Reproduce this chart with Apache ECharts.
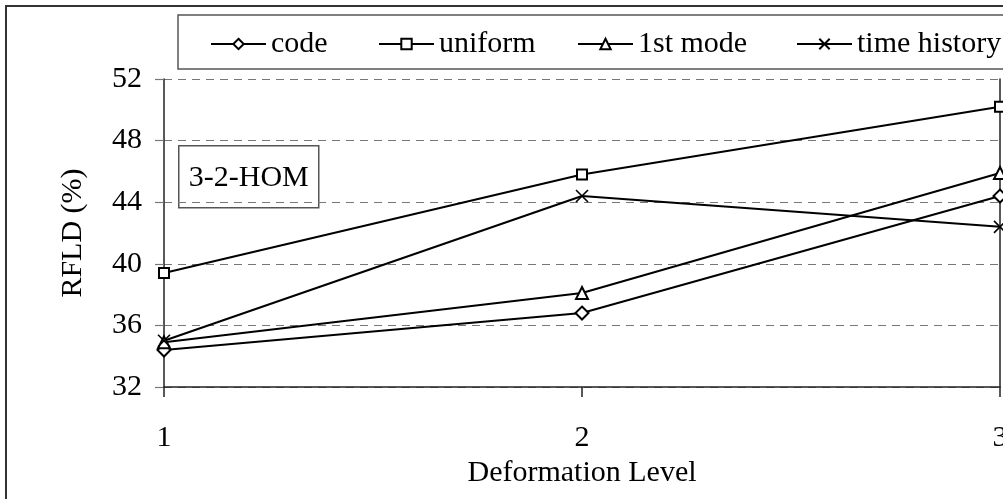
<!DOCTYPE html>
<html>
<head>
<meta charset="utf-8">
<script src="https://cdn.jsdelivr.net/npm/echarts@6/dist/echarts.min.js"></script>
<style>
  html, body { margin: 0; padding: 0; background: #fff; }
  #chart { width: 1003px; height: 499px; }
</style>
</head>
<body>
<div id="chart"></div>
<script>
// data
const levels = [1, 2, 3]
const code = [34.4, 36.8, 44.4]
const uniform = [39.4, 45.8, 50.2]
const firstMode = [34.9, 38.1, 45.9]
const timeHistory = [35.0, 44.4, 42.4]

const seriesNames = ['code', 'uniform', '1st mode', 'time history']
const yTicks = [32, 36, 40, 44, 48, 52]

const FONT = "'Liberation Serif', 'Times New Roman', serif"
const FS = 30
const crossPath = 'path://M0,0L10,10M10,0L0,10'

const chart = echarts.init(document.getElementById('chart'), null, { renderer: 'canvas' })

function pairs(vals) {
  return levels.map((x, i) => [x, vals[i]])
}

function lineSeries(name, vals, symbol, size) {
  return {
    name: name,
    type: 'line',
    data: pairs(vals),
    symbol: symbol,
    symbolSize: size,
    showSymbol: true,
    clip: false,
    lineStyle: { color: '#000', width: 2 },
    itemStyle: { color: '#000', borderColor: '#000', borderWidth: 1.6 },
    emphasis: { disabled: true }
  }
}

// one legend per item so each can sit where the reference has it
const legendLefts = [205, 373, 572, 791]
const legends = seriesNames.map((n, i) => ({
  data: [n],
  left: legendLefts[i],
  top: 24,
  itemWidth: 55,
  itemHeight: 13,
  itemGap: 8,
  textStyle: { fontFamily: FONT, fontSize: FS, color: '#000' },
  selectedMode: false
}))

const option = {
  backgroundColor: '#fff',
  animation: false,
  legend: legends,
  grid: { left: 164, right: 3, top: 79, bottom: 112, outerBoundsMode: 'none', containLabel: false },
  xAxis: {
    type: 'value',
    min: 1,
    max: 3,
    interval: 1,
    name: 'Deformation Level',
    nameLocation: 'middle',
    nameGap: 70,
    nameTextStyle: { fontFamily: FONT, fontSize: FS, color: '#000' },
    axisLine: { lineStyle: { color: '#222', width: 1.5 } },
    axisTick: { show: true, inside: false, length: 10, lineStyle: { color: '#222', width: 1.5 } },
    axisLabel: { fontFamily: FONT, fontSize: FS, color: '#000', margin: 36 },
    splitLine: { show: false }
  },
  yAxis: [
    {
      type: 'value',
      min: yTicks[0],
      max: yTicks[yTicks.length - 1],
      interval: 4,
      name: 'RFLD (%)',
      nameLocation: 'middle',
      nameGap: 76,
      nameTextStyle: { fontFamily: FONT, fontSize: FS, color: '#000' },
      axisLine: { show: true, lineStyle: { color: '#222', width: 1.5 } },
      axisTick: { show: true, length: 9, lineStyle: { color: '#777', width: 1.2 } },
      axisLabel: { fontFamily: FONT, fontSize: FS, color: '#000', margin: 22 },
      splitLine: { show: true, lineStyle: { color: '#777', type: [8, 6], width: 1.2 } }
    },
    {
      type: 'value',
      position: 'right',
      min: yTicks[0],
      max: yTicks[yTicks.length - 1],
      interval: 4,
      axisLine: { show: true, lineStyle: { color: '#222', width: 1.5 } },
      axisTick: { show: false },
      axisLabel: { show: false },
      splitLine: { show: false }
    }
  ],
  graphic: [
    {
      type: 'rect',
      shape: { x: 6, y: 6, width: 1100, height: 600 },
      style: { fill: 'none', stroke: '#333', lineWidth: 2 },
      z: 0,
      silent: true
    },
    {
      type: 'rect',
      shape: { x: 178, y: 15, width: 900, height: 54 },
      style: { fill: '#fff', stroke: '#555', lineWidth: 1.5 },
      z: 1,
      silent: true
    },
    {
      type: 'group',
      left: 178,
      top: 145,
      z: 5,
      children: [
        {
          type: 'rect',
          shape: { x: 0, y: 0, width: 140, height: 62 },
          style: { fill: '#fff', stroke: '#555', lineWidth: 1.5 }
        },
        {
          type: 'text',
          x: 70,
          y: 32,
          style: {
            text: '3-2-HOM',
            font: FS + 'px ' + FONT,
            fill: '#000',
            align: 'center',
            verticalAlign: 'middle'
          }
        }
      ]
    }
  ],
  series: [
    lineSeries('code', code, 'emptyDiamond', 13),
    lineSeries('uniform', uniform, 'emptyRect', 10),
    lineSeries('1st mode', firstMode, 'emptyTriangle', 12),
    lineSeries('time history', timeHistory, crossPath, 12)
  ]
}

chart.setOption(option)
</script>
</body>
</html>
